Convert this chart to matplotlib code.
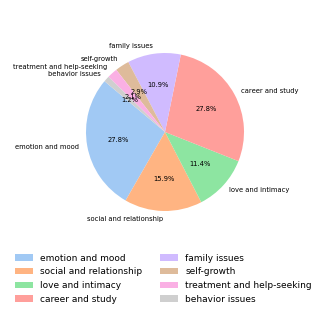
import matplotlib
matplotlib.use("Agg")
import matplotlib.pyplot as plt
import seaborn as sns

categories = ["emotion and mood", "social and relationship", "love and intimacy",
              "career and study", "family issues", "self-growth",
              "treatment and help-seeking", "behavior issues"]
values = [27.8, 15.9, 11.4, 27.8, 10.9, 2.9, 2.1, 1.2]

colors = sns.color_palette("pastel", 8)

fig = plt.figure(figsize=(3.29, 3.29), dpi=100)
ax = fig.add_axes([86/329, (329-211)/329, 158/329, 158/329])
wedges, texts, autotexts = ax.pie(values, labels=categories, colors=colors,
                                  autopct="%1.1f%%", startangle=140,
                                  textprops={"fontsize": 4.9}, frame=False)
ax.set_xlim(-1, 1)
ax.set_ylim(-1, 1)
ax.set_aspect("equal")
ax.axis("off")

fig.legend(wedges, categories, loc="upper left", ncol=2, frameon=False,
           fontsize=6.5, bbox_to_anchor=(11/329, 1 - 250/329),
           borderaxespad=0, columnspacing=2.0, labelspacing=0.52)

fig.savefig("out.png", dpi=100)
